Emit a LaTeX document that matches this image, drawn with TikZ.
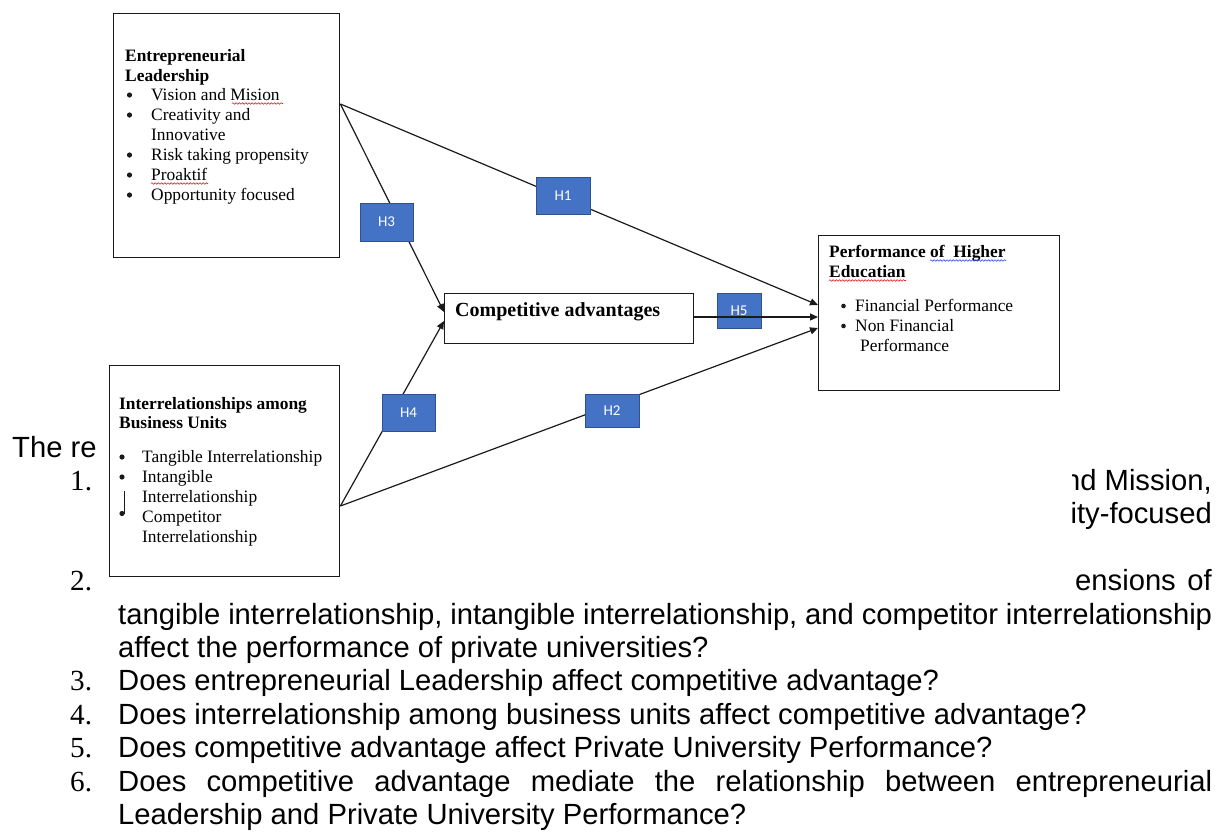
\documentclass[tikz,border=0pt]{standalone}
\usepackage{fontspec}
\setmainfont{Liberation Serif}
\newfontfamily\arialfont{Liberation Sans}
\newfontfamily\calfont{Carlito}
\usetikzlibrary{arrows.meta,decorations.pathmorphing,calc}

\definecolor{hblue}{HTML}{4472C4}
\definecolor{hborder}{HTML}{2F528F}
\definecolor{ink}{HTML}{1A1A1A}
\definecolor{spellred}{HTML}{E02020}
\definecolor{gramblue}{HTML}{3050D0}

\begin{document}
\begin{tikzpicture}[x=1pt,y=-1pt,
  frame/.style={draw=ink, line width=1.4pt, fill=white, rectangle, inner sep=0pt, anchor=north west},
  hyp/.style={draw=hborder, line width=0.8pt, fill=hblue, text=white,
    font=\calfont\fontsize{15}{15}\selectfont, inner sep=0pt},
  txt/.style={anchor=base west, inner sep=0pt, font=\fontsize{17.4}{20}\selectfont},
  head/.style={anchor=base west, inner sep=0pt, font=\bfseries\fontsize{17.4}{20}\selectfont},
  dot/.style={circle, fill=ink, inner sep=0pt, minimum size=5.2pt},
  body/.style={anchor=base west, inner sep=0pt, font=\arialfont\fontsize{29.2}{33}\selectfont},
  bodyr/.style={anchor=base east, inner sep=0pt, font=\arialfont\fontsize{29.2}{33}\selectfont},
  num/.style={anchor=base west, inner sep=0pt, font=\fontsize{29.2}{33}\selectfont},
  link/.style={draw=ink, line width=1.2pt},
  tip/.style={-{Triangle[length=8pt,width=7pt]}},
  squiggle/.style={decorate, decoration={snake, segment length=3.2pt, amplitude=0.8pt}, line width=0.6pt}
]
\useasboundingbox (0,0) rectangle (1225,831);

% ---- running text around the figure ----
\node[body] (p0) at (12,457) {The re};
\node[num] (n1) at (70,490.4) {1.};
\node[num] (n2) at (70,590.6) {2.};
\begin{scope}
  \clip (1072,440) rectangle (1225,610);
  \node[bodyr] (r1) at (1212,490.4) {nd Mission,};
  \node[bodyr] (r2) at (1212,523.8) {ity-focused};
  \node[body] (r4a) at (1075,590.6) {ensions};
  \node[bodyr] (r4b) at (1212,590.6) {of};
\end{scope}
\node[body] (l5) at (118,624) {\makebox[1094pt][s]{tangible interrelationship, intangible interrelationship, and competitor interrelationship}};
\node[body] (l6) at (118,657.4) {affect the performance of private universities?};
\node[num] (n3) at (70,690.8) {3.};
\node[body] (l7) at (118,690.8) {Does entrepreneurial Leadership affect competitive advantage?};
\node[num] (n4) at (70,724.2) {4.};
\node[body] (l8) at (118,724.2) {Does interrelationship among business units affect competitive advantage?};
\node[num] (n5) at (70,757.6) {5.};
\node[body] (l9) at (118,757.6) {Does competitive advantage affect Private University Performance?};
\node[num] (n6) at (70,791) {6.};
\node[body] (l10) at (118,791) {\makebox[1094pt][s]{Does competitive advantage mediate the relationship between entrepreneurial}};
\node[body] (l11) at (118,824.4) {Leadership and Private University Performance?};

% ---- construct boxes ----
\node[frame, minimum width=226pt, minimum height=244pt] (el) at (113,13) {};
\node[frame, minimum width=230pt, minimum height=211pt] (ir) at (109,365) {};
\node[frame, minimum width=249pt, minimum height=50pt] (ca) at (444,293) {};
\node[frame, minimum width=241pt, minimum height=155pt] (perf) at (818,235) {};

% Entrepreneurial Leadership
\node[head] (elh1) at (125,61) {Entrepreneurial};
\node[head] (elh2) at (125,81) {Leadership};
\node[dot] (elb1) at (129.5,95) {};
\node[txt] (elt1) at (151,100) {Vision and Mision};
\node[dot] (elb2) at (129.5,115) {};
\node[txt] (elt2) at (151,120) {Creativity and};
\node[txt] (elt2b) at (151,140) {Innovative};
\node[dot] (elb3) at (129.5,155) {};
\node[txt] (elt3) at (151,160) {Risk taking propensity};
\node[dot] (elb4) at (129.5,175) {};
\node[txt] (elt4) at (151,180) {Proaktif};
\node[dot] (elb5) at (129.5,195) {};
\node[txt] (elt5) at (151,200) {Opportunity focused};
\draw[spellred, squiggle] (232,103.5) -- (283,103.5);
\draw[spellred, squiggle] (151,183.5) -- (208,183.5);

% Interrelationships among Business Units
\node[head] (irh1) at (119,409) {Interrelationships among};
\node[head] (irh2) at (119,428) {Business Units};
\node[dot] (irb1) at (122,457) {};
\node[txt] (irt1) at (142,462) {Tangible Interrelationship};
\node[dot] (irb2) at (122,477) {};
\node[txt] (irt2) at (142,482) {Intangible};
\node[txt] (irt2b) at (142,502) {Interrelationship};
\node[dot] (irb3) at (122,513.5) {};
\draw[ink, line width=0.9pt] (124.6,513.5) -- (124.6,491);
\node[txt] (irt3) at (142,522) {Competitor};
\node[txt] (irt3b) at (142,542) {Interrelationship};

% Competitive advantages
\node[anchor=base west, inner sep=0pt, font=\bfseries\fontsize{20}{22}\selectfont] (cat) at (455,316) {Competitive advantages};

% Performance of Higher Educatian
\node[head] (pfh1) at (829,257) {Performance of\ \ Higher};
\node[head] (pfh2) at (829,277) {Educatian};
\draw[gramblue, squiggle] (930,260.5) -- (1006,260.5);
\draw[spellred, squiggle] (829,280.5) -- (906,280.5);
\node[dot, minimum size=4.6pt] (pfb1) at (843.5,306) {};
\node[txt] (pft1) at (855,311) {Financial Performance};
\node[dot, minimum size=4.6pt] (pfb2) at (843.5,326) {};
\node[txt] (pft2) at (855,331) {Non Financial};
\node[txt] (pft2b) at (860,351) {Performance};

% ---- connection points ----
\coordinate (elR) at ([yshift=-91pt]el.north east);
\coordinate (irR) at ([yshift=-141pt]ir.north east);
\coordinate (caIn1) at ([yshift=-19pt]ca.north west);
\coordinate (caIn2) at ([yshift=-28pt]ca.north west);
\coordinate (caOut) at ([yshift=-24pt]ca.north east);
\coordinate (pfIn1) at ([yshift=-70pt]perf.north west);
\coordinate (pfIn2) at ([yshift=-82pt]perf.north west);
\coordinate (pfIn3) at ([yshift=-93pt]perf.north west);

% ---- paths ----
\draw[link, tip] (elR) -- (pfIn1);
\draw[link, tip] (elR) -- (caIn1);
\draw[link, tip] (irR) -- (caIn2);
\draw[link, tip] (irR) -- (pfIn3);

% hypothesis labels
\node[hyp, minimum width=54pt, minimum height=37pt] (h1) at (563,195.5) {H1};
\node[hyp, minimum width=53pt, minimum height=38pt] (h3) at (386.5,222) {H3};
\node[hyp, minimum width=53pt, minimum height=37pt] (h4) at (408.5,412.5) {H4};
\node[hyp, minimum width=54pt, minimum height=33pt] (h2) at (612,410.5) {H2};
\node[hyp, minimum width=44pt, minimum height=35pt] (h5) at (739,310.5) {H5};

\draw[link, tip] (caOut) -- (caOut -| pfIn2);
\end{tikzpicture}
\end{document}
